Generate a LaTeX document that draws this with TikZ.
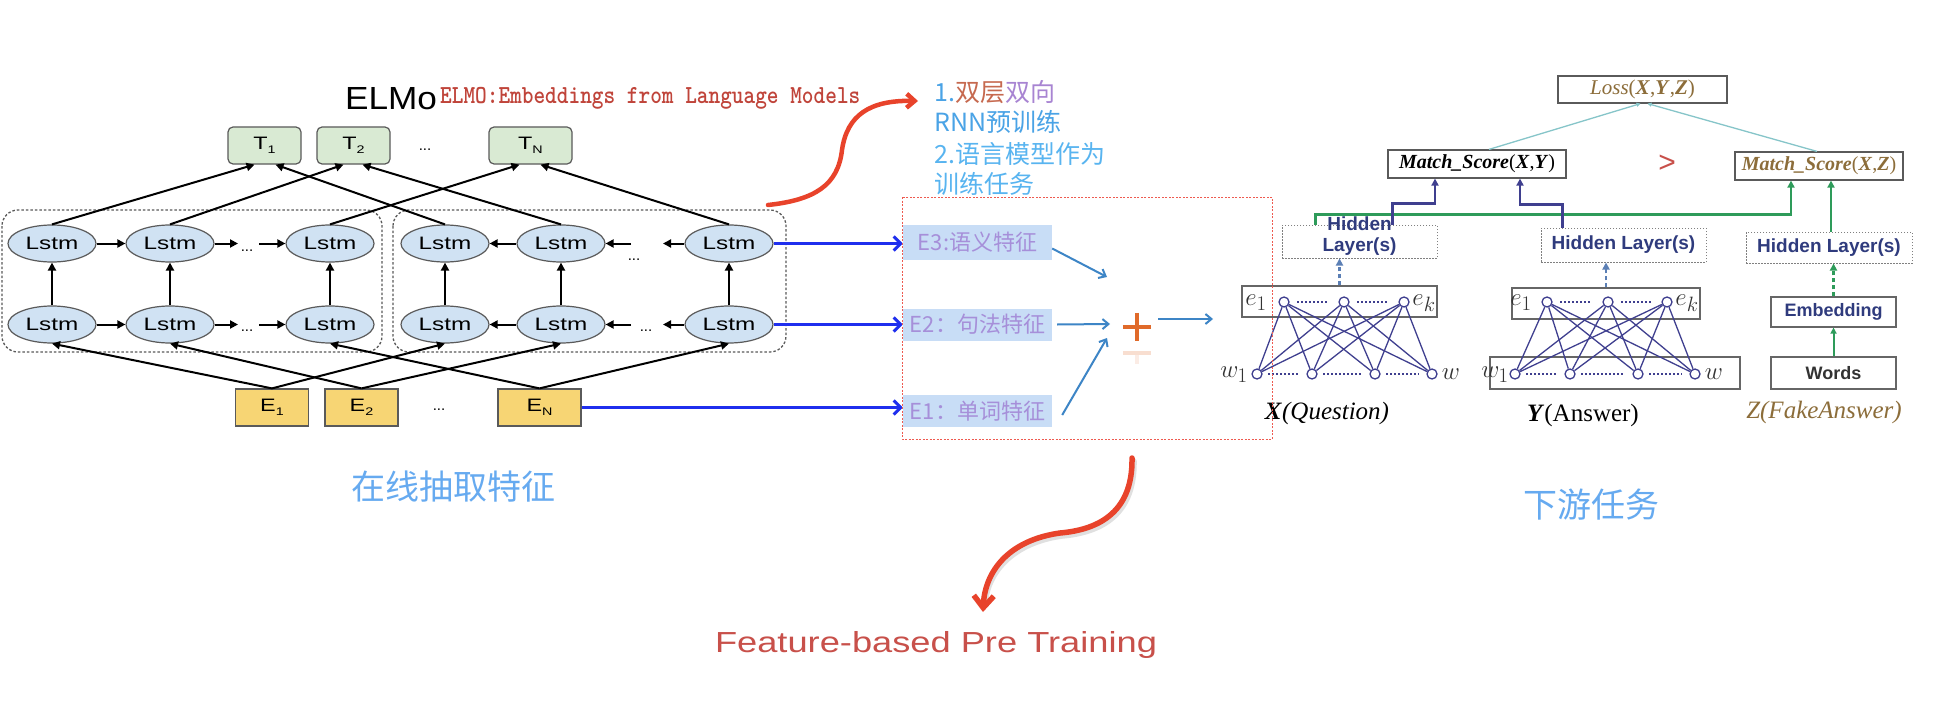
\documentclass[tikz,border=0pt]{standalone}
\usepackage{fontspec}
\usetikzlibrary{arrows.meta,shapes.geometric,calc}
\newfontfamily\cjk{Noto Sans CJK SC}
\newfontfamily\lsans{Liberation Sans}
\newfontfamily\lserif{Liberation Serif}
\newcommand{\myfs}[1]{\fontsize{#1}{#1}\selectfont}
\newcommand{\wx}[2]{\scalebox{#1}[1]{#2}}
\newcommand{\mysub}[1]{\raisebox{-4pt}{\myfs{11}#1}}
\definecolor{lstmfill}{HTML}{D0E2F3}
\definecolor{lstmdraw}{HTML}{5A5A5A}
\definecolor{tfill}{HTML}{D9EAD3}
\definecolor{efill}{HTML}{F7D574}
\definecolor{blueA}{HTML}{1F2FEE}
\definecolor{elabfill}{HTML}{C8DDF6}
\definecolor{elabtext}{HTML}{A68FD9}
\definecolor{plusc}{HTML}{E06A2A}
\definecolor{tblue}{HTML}{3D85C6}
\definecolor{reddash}{HTML}{EE5A50}
\definecolor{redarr}{HTML}{E8432B}
\definecolor{netcol}{HTML}{3F3F8F}
\definecolor{greenc}{HTML}{2E9B5A}
\definecolor{tealc}{HTML}{86C5C9}
\definecolor{hltext}{HTML}{2F3B7D}
\definecolor{goldc}{HTML}{8C6D3A}
\definecolor{redtxt}{HTML}{C0443A}
\definecolor{lb}{HTML}{4AA3E6}
\definecolor{lb2}{HTML}{58B4F0}
\definecolor{brn}{HTML}{C6694F}
\definecolor{pur}{HTML}{A884D2}
\definecolor{cnblue}{HTML}{66AAF0}
\definecolor{ftred}{HTML}{C8504A}
\definecolor{dasharrc}{HTML}{5B7FB5}
\begin{document}
\begin{tikzpicture}[x=1pt,y=-1pt,
  lstm/.style={ellipse,draw=lstmdraw,fill=lstmfill,line width=1.2pt,minimum width=88pt,minimum height=37pt,inner sep=0pt,font=\lsans\myfs{18}},
  tbox/.style={rectangle,rounded corners=5pt,draw=lstmdraw,fill=tfill,line width=1.2pt,minimum height=37pt,inner sep=0pt,font=\lsans\myfs{18}},
  ebox/.style={rectangle,draw=lstmdraw,fill=efill,line width=1.2pt,minimum height=37pt,inner sep=0pt,font=\lsans\myfs{18}},
  blk/.style={line width=2pt,-{Triangle[length=8pt,width=8pt]}},
  dotsnode/.style={font=\lsans\myfs{15},inner sep=0pt},
  elmobox/.style={draw=lstmdraw,line width=1.3pt,dash pattern=on 2.5pt off 2pt,rounded corners=16pt},
  bluearr/.style={line width=3pt,color=blueA,-{Straight Barb[length=7pt,width=14pt]}},
  elab/.style={rectangle,fill=elabfill,inner sep=0pt,minimum width=149pt,text=elabtext,font=\cjk\myfs{22}},
  tb/.style={line width=2pt,color=tblue,-{Straight Barb[length=6pt,width=10pt]}},
  redarrow/.style={line width=4.5pt,color=redarr,line cap=round},
  cntext/.style={anchor=west,inner sep=0pt,font=\cjk\myfs{25}},
  rbox/.style={rectangle,draw=lstmdraw,line width=1.2pt,fill=white,inner sep=0pt},
  hlbox/.style={rectangle,draw=gray,line width=1pt,dash pattern=on 1.5pt off 1.5pt,inner sep=0pt},
  hlt/.style={inner sep=0pt,align=center,text=hltext,font=\lsans\bfseries\myfs{19}},
  gline/.style={line width=2.5pt,color=greenc,-{Triangle[length=7pt,width=7pt]}},
  nline/.style={line width=2.5pt,color=netcol,-{Triangle[length=7pt,width=7pt]}},
  tline/.style={line width=1.3pt,color=tealc,-{Triangle[length=4pt,width=4pt]}},
  dasharr/.style={line width=2.5pt,dash pattern=on 4pt off 3pt,-{Triangle[length=7pt,width=7pt]}},
  gbox/.style={rectangle,draw=gray!80!black,line width=1.2pt,inner sep=0pt},
  neuron/.style={circle,draw=netcol,fill=white,line width=1.3pt,minimum size=10pt,inner sep=0pt},
  edge/.style={line width=1.3pt,color=netcol},
  ndots/.style={line width=1.6pt,color=netcol,dash pattern=on 1.5pt off 2.5pt},
  mlab/.style={inner sep=0pt,text=black!80,font=\myfs{30}},
  qlab/.style={inner sep=0pt,font=\lserif\myfs{25}}
]
\fill[white] (0,0) rectangle (1954,706);
\useasboundingbox (0,0) rectangle (1954,706);

% ---------------- ELMo ----------------
\node[inner sep=0pt,font=\lsans\myfs{32}] (elmo) at (391,99) {\wx{1.1}{ELMo}};
\node[anchor=west,inner sep=0pt,text=redtxt,font=\ttfamily\bfseries\myfs{26}] (elmot) at (440,98) {\wx{0.855}{ELMO:Embeddings from Language Models}};

\draw[elmobox] (2,210) rectangle (382,352);
\draw[elmobox] (393,210) rectangle (786,352);

\foreach \n/\x in {1/52,2/170,3/330,4/445,5/561,6/729}{
  \node[lstm] (L\n) at (\x,243.5) {\wx{1.35}{Lstm}};
  \node[lstm] (B\n) at (\x,324.5) {\wx{1.35}{Lstm}};
}
\node[tbox,minimum width=73pt] (T1) at (264.5,145.5) {\wx{1.3}{T\mysub{1}}};
\node[tbox,minimum width=73pt] (T2) at (353.5,145.5) {\wx{1.3}{T\mysub{2}}};
\node[tbox,minimum width=83pt] (TN) at (530.5,145.5) {\wx{1.3}{T\mysub{N}}};
\node[dotsnode] (tdots) at (425,150) {...};

\node[ebox,minimum width=73pt] (E1) at (272,407.5) {\wx{1.3}{E\mysub{1}}};
\node[ebox,minimum width=73pt] (E2) at (361.5,407.5) {\wx{1.3}{E\mysub{2}}};
\node[ebox,minimum width=83pt] (EN) at (539.5,407.5) {\wx{1.3}{E\mysub{N}}};
\node[dotsnode] (edots) at (439,410) {...};

% horizontal arrows
\foreach \r/\yy in {L/243.5,B/324.5}{
  \coordinate (\r a) at (238,\yy);
  \coordinate (\r b) at (259,\yy);
  \coordinate (\r c) at (631,\yy);
  \coordinate (\r d) at (663,\yy);
  \draw[blk] (\r1.east) -- (\r2.west);
  \draw[blk] (\r2.east) -- (\r a);
  \draw[blk] (\r b) -- (\r3.west);
  \draw[blk] (\r5.west) -- (\r4.east);
  \draw[blk] (\r c) -- (\r5.east);
  \draw[blk] (\r6.west) -- (\r d);
}
\node[dotsnode] (dl1) at (247,251) {...};
\node[dotsnode] (dl2) at (247,331) {...};
\node[dotsnode] (dr1) at (634,260) {...};
\node[dotsnode] (dr2) at (646,331) {...};

% vertical arrows
\foreach \n in {1,...,6}{ \draw[blk] (B\n.north) -- (L\n.south); }

% E to bottom lstm
\draw[blk] (E1.north) -- (B1.south);
\draw[blk] (E1.north) -- (B4.south);
\draw[blk] (E2.north) -- (B2.south);
\draw[blk] (E2.north) -- (B5.south);
\draw[blk] (EN.north) -- (B3.south);
\draw[blk] (EN.north) -- (B6.south);

% top lstm to T
\draw[blk] (L1.north) -- ([xshift=-10pt]T1.south);
\draw[blk] (L4.north) -- ([xshift=11pt]T1.south);
\draw[blk] (L2.north) -- ([xshift=-10pt]T2.south);
\draw[blk] (L5.north) -- ([xshift=9pt]T2.south);
\draw[blk] (L3.north) -- ([xshift=-11pt]TN.south);
\draw[blk] (L6.north) -- ([xshift=10pt]TN.south);

% ---------------- middle ----------------
\node[elab,minimum height=35pt] (E3l) at (977.5,242.5) {E3:语义特征};
\node[elab,minimum height=32pt] (E2l) at (977.5,324.5) {E2：句法特征};
\node[elab,minimum height=32pt] (E1l) at (977.5,411) {E1：单词特征};

\draw[bluearr] (L6.east) -- (L6.east -| E3l.west);
\draw[bluearr] (B6.east) -- (B6.east -| E2l.west);
\draw[bluearr] (EN.east) -- (EN.east -| E1l.west);

\node[minimum size=28pt,inner sep=0pt] (plus) at (1137,327) {};
\draw[plusc,line width=4pt] (plus.west) -- (plus.east);
\draw[plusc,line width=4pt] (plus.north) -- (plus.south);
\draw[plusc,line width=4pt,opacity=0.22] (1123,353) -- (1151,353);
\draw[plusc,line width=4pt,opacity=0.12] (1137,355) -- (1137,364);

\coordinate (p3) at (1107,277);
\coordinate (p2) at (1110,324);
\coordinate (p1) at (1107,338);
\coordinate (po) at (1213,319);
\draw[tb] ([yshift=-6pt]E3l.east) -- (p3);
\draw[tb] ([xshift=5pt]E2l.east) -- (p2);
\draw[tb] ([xshift=10pt,yshift=-4pt]E1l.east) -- (p1);
\draw[tb] ([xshift=7pt,yshift=8pt]plus.east) -- (po);

\node[cntext] (c1) at (934,92) {\textcolor{lb}{1.}\textcolor{brn}{双层}\textcolor{pur}{双向}};
\node[cntext,text=lb] (c2) at (934,122) {RNN预训练};
\node[cntext,text=lb2] (c3) at (934,154) {2.语言模型作为};
\node[cntext,text=lb2] (c4) at (934,184) {训练任务};

\coordinate (ra0) at (768,205);
\coordinate (ra1) at (918,101);
\draw[redarrow,-{Straight Barb[length=8pt,width=14pt]}] (ra0) .. controls (815,200) and (838,185) .. (842,150) .. controls (847,115) and (870,100) .. (ra1);

\coordinate (rb0) at (1132,458);
\coordinate (rb1) at (983,612);
\draw[line width=5.5pt,black,opacity=0.12,line cap=round] (1134,461) .. controls (1135,518) and (1097,533) .. (1062,536) .. controls (1012,543) and (987,573) .. (985,605);
\draw[redarrow,line width=5.5pt,-{Straight Barb[length=12pt,width=20pt]}] (rb0) .. controls (1133,515) and (1095,530) .. (1060,533) .. controls (1010,540) and (985,570) .. (rb1);

\node[inner sep=0pt,text=cnblue,font=\cjk\myfs{34}] (zx) at (453,487) {在线抽取特征};
\node[inner sep=0pt,text=cnblue,font=\cjk\myfs{34}] (xy) at (1591,505) {下游任务};
\node[inner sep=0pt,text=ftred,font=\lsans\myfs{29}] (fbpt) at (936,645) {\wx{1.25}{Feature-based Pre Training}};

% ---------------- right ----------------
\node[rbox,minimum width=169pt,minimum height=27pt,text=goldc,font=\lserif\myfs{21}] (loss) at (1642.5,89.5) {\textit{Loss}(\textbf{\textit{X}},\textbf{\textit{Y}},\textbf{\textit{Z}})};
\node[rbox,minimum width=178pt,minimum height=28pt,font=\lserif\myfs{20}] (msxy) at (1477,164) {\textbf{\textit{Match\_Score}}(\textbf{\textit{X}},\textbf{\textit{Y}})};
\node[rbox,minimum width=168pt,minimum height=28pt,text=goldc,font=\lserif\myfs{20}] (msxz) at (1819,166) {\textbf{\textit{Match\_Score}}(\textbf{\textit{X}},\textbf{\textit{Z}})};
\node[inner sep=0pt,text=ftred,font=\lsans\myfs{30}] (gt) at (1667,164) {>};

\draw[tline] ([xshift=12pt]msxy.north) -- ([xshift=-2pt]loss.south);
\draw[tline] ([xshift=-2pt]msxz.north) -- ([xshift=5pt]loss.south);

\node[hlbox,minimum width=155pt,minimum height=33pt] (hlx) at (1359.5,241.5) {};
\node[hlt,text height=14pt] (hlxt) at ([yshift=-5pt]hlx.center) {Hidden\\[2pt]Layer(s)};
\node[hlbox,minimum width=165pt,minimum height=34pt,text=hltext,font=\lsans\bfseries\myfs{19}] (hly) at (1623.5,245) {Hidden Layer(s)};
\node[hlbox,minimum width=166pt,minimum height=31pt,text=hltext,font=\lsans\bfseries\myfs{19}] (hlz) at (1829,247.5) {Hidden Layer(s)};

\draw[gline] ([xshift=-44pt]hlx.north) -- ++(0,-10) -| ([xshift=-28pt]msxz.south);
\draw[nline] ([xshift=33pt]hlx.north) -- ++(0,-21) -| ([xshift=-42pt]msxy.south);
\draw[nline] ([xshift=-61pt]hly.north) -- ++(0,-23) -| ([xshift=43pt]msxy.south);
\draw[gline] ([xshift=2pt]hlz.north) -- ([xshift=12pt]msxz.south);

\node[gbox,minimum width=195pt,minimum height=31pt] (ex) at (1339.5,301.5) {};
\node[gbox,minimum width=188pt,minimum height=31pt] (ey) at (1606,303.5) {};
\node[gbox,minimum width=250pt,minimum height=32pt] (wy) at (1615,373) {};
\node[gbox,minimum width=125pt,minimum height=30pt,text=hltext,font=\lsans\bfseries\myfs{18}] (emb) at (1833.5,312) {Embedding};
\node[gbox,minimum width=125pt,minimum height=32pt,text=black!80,font=\lsans\bfseries\myfs{18}] (words) at (1833.5,373) {Words};

\draw[dasharr,dasharrc] (ex.north) -- (ex.north |- hlx.south);
\draw[dasharr,dasharrc] (ey.north) -- (ey.north |- hly.south);
\draw[dasharr,greenc] (emb.north) -- (emb.north |- hlz.south);
\draw[line width=2pt,greenc,-{Triangle[length=6pt,width=6pt]}] (words.north) -- (emb.south);

% networks
\foreach \n/\x in {1/1284,2/1344,3/1404}{ \node[neuron] (ex\n) at (\x,302) {}; }
\foreach \n/\x in {1/1257,2/1312,3/1375,4/1432}{ \node[neuron] (wx\n) at (\x,374) {}; }
\foreach \n/\x in {1/1547,2/1608,3/1667}{ \node[neuron] (ey\n) at (\x,302) {}; }
\foreach \n/\x in {1/1515,2/1570,3/1638,4/1695}{ \node[neuron] (wy\n) at (\x,374) {}; }
\foreach \i in {1,2,3}{
  \foreach \j in {1,2,3,4}{
    \draw[edge] (ex\i) -- (wx\j);
    \draw[edge] (ey\i) -- (wy\j);
  }
}
\foreach \a/\b in {1/2,2/3}{
  \draw[ndots] ([xshift=13pt]ex\a.center) -- ([xshift=-16pt]ex\b.center);
  \draw[ndots] ([xshift=13pt]ey\a.center) -- ([xshift=-16pt]ey\b.center);
}
\foreach \a/\b in {1/2,2/3,3/4}{
  \draw[ndots] ([xshift=11pt]wx\a.center) -- ([xshift=-13pt]wx\b.center);
  \draw[ndots] ([xshift=11pt]wy\a.center) -- ([xshift=-13pt]wy\b.center);
}

\node[mlab] (lex1) at (1256,303) {$e_1$};
\node[mlab] (lexk) at (1424,303) {$e_k$};
\node[mlab] (lwx1) at (1234,375) {$w_1$};
\node[mlab] (lwx) at (1451,374) {$w$};
\node[mlab] (ley1) at (1521,303) {$e_1$};
\node[mlab] (leyk) at (1687,303) {$e_k$};
\node[mlab] (lwy1) at (1495,375) {$w_1$};
\node[mlab] (lwy) at (1714,374) {$w$};

\node[qlab] (qx) at (1327,413) {\textbf{\textit{X}}\textit{(Question)}};
\node[qlab] (qy) at (1583,415) {\textbf{\textit{Y}}(Answer)};
\node[qlab,text=goldc] (qz) at (1824,412) {\textit{Z(FakeAnswer)}};

% red dashed box
\draw[reddash,line width=1pt,dash pattern=on 2pt off 1.5pt] (902,197) rectangle (1272,439);
\end{tikzpicture}
\end{document}
